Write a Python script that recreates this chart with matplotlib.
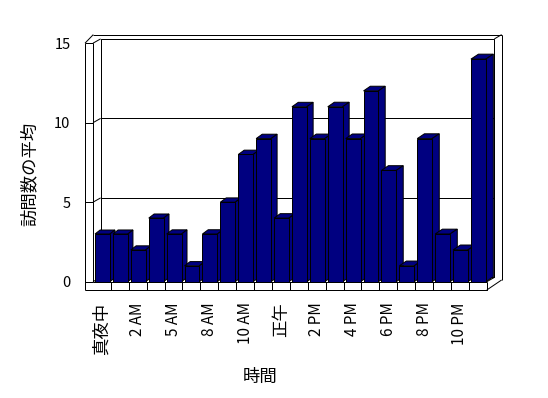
import matplotlib
matplotlib.use("Agg")
import matplotlib.pyplot as plt
from matplotlib.patches import Polygon
import numpy as np

plt.rcParams['font.family'] = ['Noto Sans CJK JP', 'DejaVu Sans']

# ---- data ----
categories = ["真夜中", "1 AM", "2 AM", "3 AM", "5 AM", "6 AM", "8 AM", "9 AM",
              "10 AM", "11 AM", "正午", "1 PM", "2 PM", "3 PM", "4 PM", "5 PM",
              "6 PM", "7 PM", "8 PM", "9 PM", "10 PM", "11 PM"]
values = [3, 3, 2, 4, 3, 1, 3, 5, 8, 9, 4, 11, 9, 11, 9, 12, 7, 1, 9, 3, 2, 14]
y_ticks = [0, 5, 10, 15]
x_title = "時間"
y_title = "訪問数の平均"

# ---- style constants ----
BAR_COLOR = "#000080"
LW = 0.72
n = len(values)
ymax = 15
DX, DY = 0.425, 0.27          # wall / floor depth in data units
FLOOR_T = 0.522               # floor slab thickness
WALL_L = -0.947               # outer left wall face
half_w = 0.415
x_off = 0.03

fig = plt.figure(figsize=(5.48, 3.98), dpi=100)
ax = fig.add_axes([85/548, (398-290)/398, 417/548, (290-33.7)/398])
ax.set_xlim(WALL_L, 22.35)
ax.set_ylim(-FLOOR_T, 15.597)
for s in ax.spines.values():
    s.set_visible(False)

def line(xs, ys, z=1):
    ax.plot(xs, ys, color="black", lw=LW, solid_capstyle="butt", zorder=z, clip_on=False)

x0, x1 = -0.5, n - 0.5
# back wall inner face
line([x0+DX, x1+DX, x1+DX, x0+DX, x0+DX], [DY, DY, ymax+DY, ymax+DY, DY])
# gridlines on back wall and left wall
for v in y_ticks[1:-1]:
    line([x0+DX, x1+DX], [v+DY, v+DY])
    line([x0, x0+DX], [v, v+DY])
# left wall inner edges
line([x0, x0], [0, ymax])
line([x0, x0+DX], [ymax, ymax+DY])
line([x0, x0+DX], [0, DY])
# left wall outer
top_outer = ymax + 2*DY
line([WALL_L, WALL_L], [-FLOOR_T, ymax])
line([WALL_L, x0+0.017], [ymax, top_outer])
# top outer line and right outer edge
right_outer = x1 + 2*DX - 0.02
line([x0+0.017, right_outer], [top_outer, top_outer])
line([right_outer, right_outer], [top_outer, -FLOOR_T + 2*DY*1.17])
line([x1+DX, right_outer], [ymax+DY, top_outer])
# floor slab
line([WALL_L, x1, x1], [-FLOOR_T, -FLOOR_T, 0])
line([x0, x1], [0, 0])
for i in range(n - 1):
    line([i+0.5, i+0.5], [-FLOOR_T, 0])
line([x1, x1+DX], [0, DY])
line([x1, right_outer], [-FLOOR_T, -FLOOR_T + 2*DY*1.17])

# ---- bars ----
xs = np.arange(n) + x_off
bars = ax.bar(xs, values, width=2*half_w, color=BAR_COLOR, edgecolor="black",
              linewidth=LW)
for i, (rect, v) in enumerate(zip(bars, values)):
    bdx = 0.28 + 0.14 * i / (n - 1)
    bdy = 0.25 + 0.06 * i / (n - 1)
    xl, xr = xs[i] - half_w, xs[i] + half_w
    rect.set_zorder(10 + 2*i + 1)
    top = Polygon([(xl, v), (xr, v), (xr+bdx, v+bdy), (xl+bdx, v+bdy)],
                  closed=True, facecolor=BAR_COLOR, edgecolor="black",
                  linewidth=LW, zorder=10 + 2*i)
    side = Polygon([(xr, 0), (xr+bdx, bdy), (xr+bdx, v+bdy), (xr, v)],
                   closed=True, facecolor=BAR_COLOR, edgecolor="black",
                   linewidth=LW, zorder=10 + 2*i)
    ax.add_patch(top)
    ax.add_patch(side)

# ---- ticks ----
ax.set_yticks(y_ticks)
ax.set_yticklabels([str(t) for t in y_ticks], fontsize=10.5)
ax.tick_params(axis="y", direction="in", length=5.8, width=LW, pad=10.5)
tick_idx = list(range(0, n, 2))
ax.set_xticks(tick_idx)
ax.set_xticklabels([categories[i] for i in tick_idx], rotation=90)
ax.tick_params(axis="x", length=0, pad=9.0)
for lab in ax.get_xticklabels():
    t = lab.get_text()
    lab.set_fontsize(12.5 if any(ord(c) > 0x3000 for c in t) else 11)

ax.set_xlabel(x_title, fontsize=12.5, va="center")
ax.xaxis.set_label_coords(0.42, -0.339)
ax.set_ylabel(y_title, fontsize=12.5, va="center", ha="center")
ax.yaxis.set_label_coords(-0.132, 0.4526)

fig.savefig("out.png", dpi=100)
